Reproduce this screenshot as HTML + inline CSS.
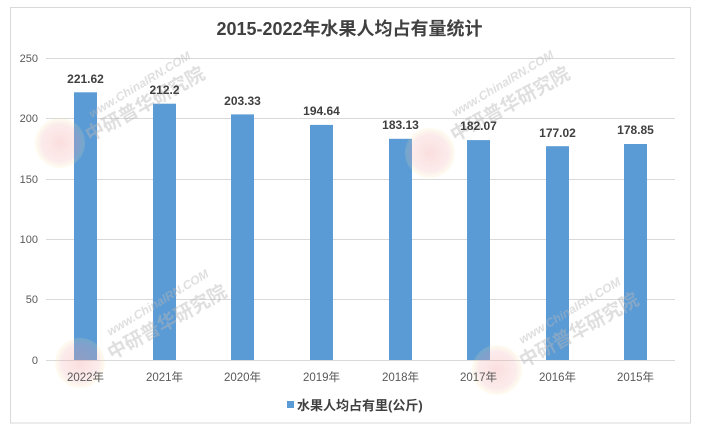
<!DOCTYPE html>
<html>
<head>
<meta charset="utf-8">
<style>
html,body{margin:0;padding:0;background:#fff;}
svg{display:block;}
text{font-family:"Liberation Sans","Noto Sans CJK SC",sans-serif;}
</style>
</head>
<body>
<svg width="701" height="433" viewBox="0 0 701 433" xmlns="http://www.w3.org/2000/svg">
<defs>
<radialGradient id="wm" cx="0.5" cy="0.5" r="0.5">
<stop offset="0" stop-color="#f3a0a0" stop-opacity="0.35"/>
<stop offset="0.75" stop-color="#f3b0b0" stop-opacity="0.25"/>
<stop offset="1" stop-color="#f7e7a0" stop-opacity="0.15"/>
</radialGradient>
</defs>
<rect x="0" y="0" width="701" height="433" fill="#fff"/>
<rect x="10.5" y="7.5" width="680" height="415.5" fill="#fff" stroke="#d9d9d9" stroke-width="1"/>

<!-- title -->
<text x="349.5" y="35" text-anchor="middle" font-size="18" font-weight="bold" fill="#404040">2015-2022年水果人均占有量统计</text>

<!-- gridlines -->
<g stroke="#d9d9d9" stroke-width="1">
<line x1="46" y1="58.5" x2="675" y2="58.5"/>
<line x1="46" y1="118.5" x2="675" y2="118.5"/>
<line x1="46" y1="179.5" x2="675" y2="179.5"/>
<line x1="46" y1="239.5" x2="675" y2="239.5"/>
<line x1="46" y1="299.5" x2="675" y2="299.5"/>
<line x1="46" y1="360.5" x2="675" y2="360.5"/>
</g>

<!-- y ticks -->
<g font-size="11" fill="#595959" text-anchor="end">
<text x="38" y="62">250</text>
<text x="38" y="122">200</text>
<text x="38" y="183">150</text>
<text x="38" y="243">100</text>
<text x="38" y="303">50</text>
<text x="38" y="364">0</text>
</g>

<!-- bars -->
<g fill="#5b9bd5">
<rect x="74" y="92.3" width="23" height="267.7"/>
<rect x="153" y="103.7" width="23" height="256.3"/>
<rect x="231" y="114.4" width="23" height="245.6"/>
<rect x="310" y="124.9" width="23" height="235.1"/>
<rect x="389" y="138.8" width="23" height="221.2"/>
<rect x="467" y="140.1" width="23" height="219.9"/>
<rect x="546" y="146.2" width="23" height="213.8"/>
<rect x="624" y="144.0" width="23" height="216.0"/>
</g>

<!-- watermarks (overlay) -->
<g>
  <circle cx="60" cy="143" r="25" fill="url(#wm)"/>
  <circle cx="430" cy="153" r="25" fill="url(#wm)"/>
  <circle cx="80" cy="363" r="25" fill="url(#wm)"/>
  <circle cx="497" cy="370" r="25" fill="url(#wm)"/>
</g>
<g fill="#b8b8b8" opacity="0.45" font-weight="bold">
  <text transform="translate(92,118) rotate(-31)" font-size="12" font-style="italic">www.ChinaIRN.COM</text>
  <text transform="translate(90,142) rotate(-29)" font-size="19">中研普华研究院</text>
  <text transform="translate(455,117) rotate(-31)" font-size="12" font-style="italic">www.ChinaIRN.COM</text>
  <text transform="translate(455,142) rotate(-29)" font-size="19">中研普华研究院</text>
  <text transform="translate(110,336) rotate(-31)" font-size="12" font-style="italic">www.ChinaIRN.COM</text>
  <text transform="translate(112,360) rotate(-29)" font-size="19">中研普华研究院</text>
  <text transform="translate(522,344) rotate(-31)" font-size="12" font-style="italic">www.ChinaIRN.COM</text>
  <text transform="translate(524,368) rotate(-29)" font-size="19">中研普华研究院</text>
</g>

<!-- value labels -->
<g font-size="12" font-weight="bold" fill="#404040" text-anchor="middle">
<text x="85.5" y="83">221.62</text>
<text x="164.5" y="94">212.2</text>
<text x="242.5" y="105">203.33</text>
<text x="321.5" y="115">194.64</text>
<text x="400.5" y="129">183.13</text>
<text x="478.5" y="130">182.07</text>
<text x="557.5" y="137">177.02</text>
<text x="635.5" y="134">178.85</text>
</g>

<!-- x labels -->
<g font-size="11.5" fill="#595959" text-anchor="middle">
<text x="85.5" y="381">2022年</text>
<text x="164.5" y="381">2021年</text>
<text x="242.5" y="381">2020年</text>
<text x="321.5" y="381">2019年</text>
<text x="400.5" y="381">2018年</text>
<text x="478.5" y="381">2017年</text>
<text x="557.5" y="381">2016年</text>
<text x="635.5" y="381">2015年</text>
</g>

<!-- legend -->
<rect x="287" y="401" width="7" height="7" fill="#5b9bd5"/>
<text x="297" y="410" font-size="13" font-weight="bold" fill="#404040">水果人均占有里(公斤)</text>
</svg>
</body>
</html>
